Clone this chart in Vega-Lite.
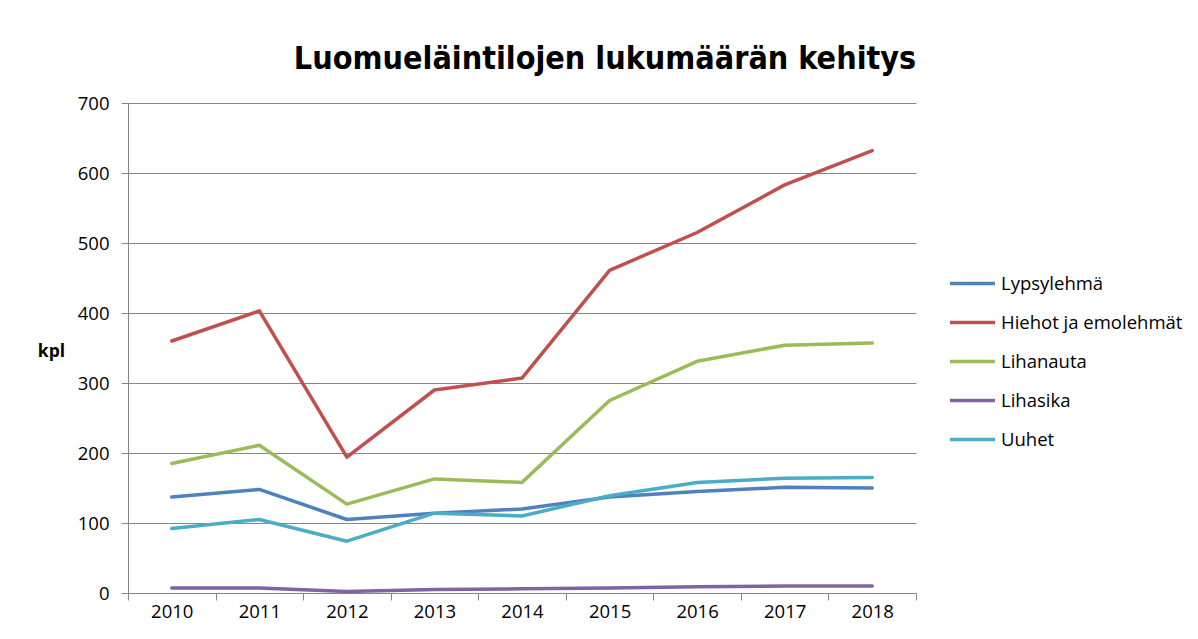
{
  "$schema": "https://vega.github.io/schema/vega-lite/v6.json",
  "width": 788,
  "height": 490,
  "autosize": {"type": "none"},
  "padding": {"left": 128, "top": 103, "right": 282, "bottom": 46},
  "background": "white",
  "title": {
    "text": "Luomueläintilojen lukumäärän kehitys",
    "font": "DejaVu Sans Condensed",
    "fontSize": 32,
    "fontWeight": "bold",
    "color": "#000000",
    "anchor": "middle",
    "frame": "group",
    "dx": 83,
    "offset": 18
  },
  "config": {
    "view": {"stroke": null},
    "font": "Open Sans"
  },
  "data": {
    "values": [
      {"year": "2010", "series": "Lypsylehmä", "value": 137},
      {"year": "2011", "series": "Lypsylehmä", "value": 148},
      {"year": "2012", "series": "Lypsylehmä", "value": 105},
      {"year": "2013", "series": "Lypsylehmä", "value": 114},
      {"year": "2014", "series": "Lypsylehmä", "value": 120},
      {"year": "2015", "series": "Lypsylehmä", "value": 137},
      {"year": "2016", "series": "Lypsylehmä", "value": 145},
      {"year": "2017", "series": "Lypsylehmä", "value": 151},
      {"year": "2018", "series": "Lypsylehmä", "value": 150},
      {"year": "2010", "series": "Hiehot ja emolehmät", "value": 360},
      {"year": "2011", "series": "Hiehot ja emolehmät", "value": 403},
      {"year": "2012", "series": "Hiehot ja emolehmät", "value": 194},
      {"year": "2013", "series": "Hiehot ja emolehmät", "value": 290},
      {"year": "2014", "series": "Hiehot ja emolehmät", "value": 307},
      {"year": "2015", "series": "Hiehot ja emolehmät", "value": 461},
      {"year": "2016", "series": "Hiehot ja emolehmät", "value": 515},
      {"year": "2017", "series": "Hiehot ja emolehmät", "value": 583},
      {"year": "2018", "series": "Hiehot ja emolehmät", "value": 632},
      {"year": "2010", "series": "Lihanauta", "value": 185},
      {"year": "2011", "series": "Lihanauta", "value": 211},
      {"year": "2012", "series": "Lihanauta", "value": 127},
      {"year": "2013", "series": "Lihanauta", "value": 163},
      {"year": "2014", "series": "Lihanauta", "value": 158},
      {"year": "2015", "series": "Lihanauta", "value": 275},
      {"year": "2016", "series": "Lihanauta", "value": 331},
      {"year": "2017", "series": "Lihanauta", "value": 354},
      {"year": "2018", "series": "Lihanauta", "value": 357},
      {"year": "2010", "series": "Lihasika", "value": 7},
      {"year": "2011", "series": "Lihasika", "value": 7},
      {"year": "2012", "series": "Lihasika", "value": 2},
      {"year": "2013", "series": "Lihasika", "value": 5},
      {"year": "2014", "series": "Lihasika", "value": 6},
      {"year": "2015", "series": "Lihasika", "value": 7},
      {"year": "2016", "series": "Lihasika", "value": 9},
      {"year": "2017", "series": "Lihasika", "value": 10},
      {"year": "2018", "series": "Lihasika", "value": 10},
      {"year": "2010", "series": "Uuhet", "value": 92},
      {"year": "2011", "series": "Uuhet", "value": 105},
      {"year": "2012", "series": "Uuhet", "value": 74},
      {"year": "2013", "series": "Uuhet", "value": 114},
      {"year": "2014", "series": "Uuhet", "value": 110},
      {"year": "2015", "series": "Uuhet", "value": 139},
      {"year": "2016", "series": "Uuhet", "value": 158},
      {"year": "2017", "series": "Uuhet", "value": 164},
      {"year": "2018", "series": "Uuhet", "value": 165}
    ]
  },
  "mark": {"type": "line", "strokeWidth": 3.5, "strokeCap": "round", "strokeJoin": "round"},
  "encoding": {
    "x": {
      "field": "year",
      "type": "ordinal",
      "scale": {"type": "band", "paddingInner": 0, "paddingOuter": 0},
      "axis": {
        "title": null,
        "labelAngle": 0,
        "labelFont": "Open Sans",
        "labelFontSize": 18.5,
        "labelColor": "#000000",
        "labelPadding": 2,
        "tickBand": "extent",
        "tickSize": 7,
        "tickColor": "#868686",
        "domainColor": "#868686",
        "domainWidth": 1,
        "grid": false
      }
    },
    "y": {
      "field": "value",
      "type": "quantitative",
      "scale": {"domain": [0, 700], "nice": false},
      "axis": {
        "values": [0, 100, 200, 300, 400, 500, 600, 700],
        "title": "kpl",
        "titleAngle": 0,
        "titleX": -77,
        "titleY": 248,
        "titleAlign": "center",
        "titleBaseline": "middle",
        "titleFont": "Open Sans",
        "titleFontSize": 17.5,
        "titleFontWeight": "bold",
        "titleColor": "#000000",
        "labelFont": "Open Sans",
        "labelFontSize": 18.5,
        "labelColor": "#000000",
        "labelPadding": 12,
        "tickSize": 7,
        "tickColor": "#868686",
        "domainColor": "#868686",
        "gridColor": "#868686",
        "gridWidth": 1
      }
    },
    "color": {
      "field": "series",
      "type": "nominal",
      "scale": {
        "domain": ["Lypsylehmä", "Hiehot ja emolehmät", "Lihanauta", "Lihasika", "Uuhet"],
        "range": ["#4F81BD", "#C0504D", "#9BBB59", "#8064A2", "#4BACC6"]
      },
      "legend": {
        "title": null,
        "orient": "none",
        "legendX": 820,
        "legendY": 156,
        "symbolType": "stroke",
        "symbolSize": 2025,
        "symbolStrokeWidth": 3.5,
        "labelFont": "Open Sans",
        "labelFontSize": 18.5,
        "labelColor": "#000000",
        "labelOffset": 4,
        "labelLimit": 0,
        "rowPadding": 5
      }
    }
  }
}
